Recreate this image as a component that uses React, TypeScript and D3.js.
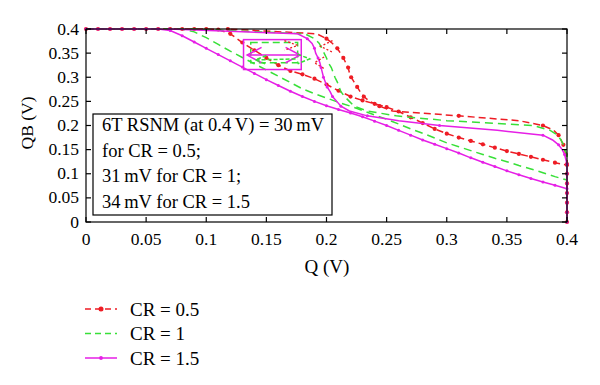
import React from "react"
import * as d3 from "d3"

const W = 600
const H = 385

const ticks = [0, 0.05, 0.1, 0.15, 0.2, 0.25, 0.3, 0.35, 0.4]
const tickLabels = ["0", "0.05", "0.1", "0.15", "0.2", "0.25", "0.3", "0.35", "0.4"]

// sweep voltage, 10 mV steps
const sweep = [
  0, 0.01, 0.02, 0.03, 0.04, 0.05, 0.06, 0.07, 0.08, 0.09, 0.1, 0.11, 0.12, 0.13,
  0.14, 0.15, 0.16, 0.17, 0.18, 0.19, 0.2, 0.21, 0.22, 0.23, 0.24, 0.25, 0.26, 0.27,
  0.28, 0.29, 0.3, 0.31, 0.32, 0.33, 0.34, 0.35, 0.36, 0.37, 0.38, 0.39, 0.4,
]

const redVtc = [
  0.4, 0.4, 0.4, 0.4, 0.4, 0.4, 0.4, 0.4, 0.4, 0.4, 0.4, 0.399, 0.39, 0.372,
  0.356, 0.34, 0.325, 0.313, 0.306, 0.297, 0.285, 0.272, 0.26, 0.252, 0.245, 0.238, 0.229, 0.217,
  0.205, 0.193, 0.183, 0.175, 0.168, 0.161, 0.154, 0.147, 0.141, 0.135, 0.129, 0.123, 0.118,
]
const greenVtc = [
  0.4, 0.4, 0.4, 0.4, 0.4, 0.4, 0.4, 0.4, 0.4, 0.394, 0.382, 0.368, 0.354, 0.341,
  0.328, 0.315, 0.302, 0.289, 0.276, 0.266, 0.257, 0.248, 0.24, 0.231, 0.222, 0.213, 0.203, 0.193,
  0.184, 0.174, 0.164, 0.156, 0.148, 0.14, 0.132, 0.125, 0.117, 0.11, 0.102, 0.094, 0.087,
]
const magentaVtc = [
  0.4, 0.4, 0.4, 0.4, 0.4, 0.4, 0.4, 0.397, 0.386, 0.373, 0.36, 0.347, 0.334, 0.321,
  0.308, 0.295, 0.283, 0.271, 0.26, 0.25, 0.241, 0.233, 0.226, 0.218, 0.209, 0.2, 0.19, 0.18,
  0.17, 0.161, 0.152, 0.143, 0.133, 0.124, 0.115, 0.106, 0.098, 0.09, 0.083, 0.076, 0.069,
]

const redMirror = [
  0.4, 0.4, 0.4, 0.4, 0.4, 0.4, 0.4, 0.4, 0.4, 0.4, 0.4, 0.4, 0.4, 0.4,
  0.399, 0.398, 0.397, 0.395, 0.393, 0.389, 0.38, 0.36, 0.31, 0.255, 0.244, 0.236, 0.231, 0.228,
  0.2255, 0.223, 0.2205, 0.219, 0.218, 0.216, 0.214, 0.2115, 0.209, 0.205, 0.2, 0.192, 0.118,
]
const greenMirror = [
  0.4, 0.4, 0.4, 0.4, 0.4, 0.4, 0.4, 0.4, 0.4, 0.4, 0.4, 0.4, 0.4, 0.4,
  0.4, 0.398, 0.397, 0.395, 0.392, 0.386, 0.372, 0.3, 0.258, 0.234, 0.223, 0.219, 0.215, 0.212,
  0.2105, 0.209, 0.207, 0.2055, 0.204, 0.2015, 0.2, 0.198, 0.196, 0.194, 0.19, 0.182, 0.087,
]
const magentaMirror = [
  0.4, 0.4, 0.4, 0.4, 0.4, 0.4, 0.4, 0.4, 0.4, 0.4, 0.4, 0.4, 0.4, 0.399,
  0.398, 0.396, 0.393, 0.388, 0.38, 0.342, 0.294, 0.26, 0.234, 0.219, 0.212, 0.2085, 0.205, 0.203,
  0.2005, 0.199, 0.1975, 0.1965, 0.1955, 0.1945, 0.193, 0.191, 0.19, 0.188, 0.184, 0.176, 0.069,
]

const legendLabels = ["CR = 0.5", "CR = 1", "CR = 1.5"]
const noteLines = [
  "6T RSNM (at 0.4\u2009V) = 30\u2009mV",
  "for CR = 0.5;",
  "31\u2009mV for CR = 1;",
  "34\u2009mV for CR = 1.5",
]

// SNM squares: [q0, qb0, q1, qb1]
const magentaBox = [0.131, 0.316, 0.179, 0.378]
const greenBox = [0.137, 0.33, 0.176, 0.372]
// arrows / chevrons drawn inside the lobe
const magentaArrow = [
  [[0.134, 0.346], [0.178, 0.346]],
  [[0.146, 0.362], [0.134, 0.346], [0.146, 0.33]],
  [[0.166, 0.362], [0.178, 0.346], [0.166, 0.33]],
]
const greenArrow = [
  [[0.15, 0.345], [0.141, 0.336], [0.15, 0.327]],
  [[0.176, 0.348], [0.186, 0.338], [0.176, 0.328]],
  [[0.141, 0.336], [0.176, 0.338]],
]
const redChevrons = [
  [[0.165, 0.376], [0.176, 0.366], [0.165, 0.356]],
  [[0.205, 0.376], [0.195, 0.364], [0.205, 0.352]],
  [[0.198, 0.342], [0.19, 0.33], [0.198, 0.318]],
]

const RED = "#ee1c24"
const GREEN = "#38e038"
const MAGENTA = "#e61fe6"

const series = [
  { color: RED, dash: "7,4", dot: 2.1, vtc: redVtc, mirror: redMirror },
  { color: GREEN, dash: "8,5", dot: 0, vtc: greenVtc, mirror: greenMirror },
  { color: MAGENTA, dash: "none", dot: 1.5, vtc: magentaVtc, mirror: magentaMirror },
]

const font = "'Liberation Serif', 'DejaVu Serif', 'Times New Roman', serif"

export default function App() {
  const x = d3.scaleLinear().domain([0, 0.4]).range([86, 567])
  const y = d3.scaleLinear().domain([0, 0.4]).range([222, 29])
  const line = d3
    .line<number[]>()
    .x((d) => x(d[0]))
    .y((d) => y(d[1]))

  const x0 = x(0), x1 = x(0.4), y0 = y(0), y1 = y(0.4)

  return (
    <svg width={W} height={H} style={{ position: "absolute", left: 0, top: 0, background: "#fff", fontFamily: font }}>
      <rect x={0} y={0} width={W} height={H} fill="#fff" />

      {/* curves */}
      {series.map((s, i) => {
        const a = sweep.map((v, j) => [v, s.vtc[j]])
        const b = sweep.map((v, j) => [s.mirror[j], v])
        return (
          <g key={i}>
            {[a, b].map((pts, k) => (
              <g key={k}>
                <path
                  d={line(pts) || ""}
                  fill="none"
                  stroke={s.color}
                  strokeWidth={1.5}
                  strokeDasharray={s.dash}
                />
                {s.dot > 0 &&
                  pts
                    .filter((p, m) => k === 0 || m % 2 === 0)
                    .map((p, m) => (
                      <circle key={m} cx={x(p[0])} cy={y(p[1])} r={s.dot} fill={s.color} />
                    ))}
              </g>
            ))}
          </g>
        )
      })}

      {/* SNM squares */}
      <rect
        x={x(magentaBox[0])}
        y={y(magentaBox[3])}
        width={x(magentaBox[2]) - x(magentaBox[0])}
        height={y(magentaBox[1]) - y(magentaBox[3])}
        fill="none"
        stroke={MAGENTA}
        strokeWidth={1.5}
      />
      <rect
        x={x(greenBox[0])}
        y={y(greenBox[3])}
        width={x(greenBox[2]) - x(greenBox[0])}
        height={y(greenBox[1]) - y(greenBox[3])}
        fill="none"
        stroke={GREEN}
        strokeWidth={1.5}
        strokeDasharray="7,4"
      />
      {magentaArrow.map((p, i) => (
        <path key={"m" + i} d={line(p) || ""} fill="none" stroke={MAGENTA} strokeWidth={1.5} />
      ))}
      {greenArrow.map((p, i) => (
        <path key={"g" + i} d={line(p) || ""} fill="none" stroke={GREEN} strokeWidth={1.5} strokeDasharray="4,2" />
      ))}
      {redChevrons.map((p, i) => (
        <path key={"r" + i} d={line(p) || ""} fill="none" stroke={RED} strokeWidth={1.3} strokeDasharray="2,2" />
      ))}

      {/* frame and ticks */}
      <rect x={x0} y={y1} width={x1 - x0} height={y0 - y1} fill="none" stroke="#000" strokeWidth={1.2} />
      {ticks.map((t, i) => (
        <g key={"t" + i} stroke="#000" strokeWidth={1.2}>
          <line x1={x(t)} x2={x(t)} y1={y0} y2={y0 - 5} />
          <line x1={x(t)} x2={x(t)} y1={y1} y2={y1 + 5} />
          <line x1={x0} x2={x0 + 5} y1={y(t)} y2={y(t)} />
          <line x1={x1} x2={x1 - 5} y1={y(t)} y2={y(t)} />
        </g>
      ))}
      {ticks.map((t, i) => (
        <text key={"xl" + i} x={x(t)} y={245} textAnchor="middle" style={{ fontFamily: font, fontSize: 17.5 }}>
          {tickLabels[i]}
        </text>
      ))}
      {ticks.map((t, i) => (
        <text key={"yl" + i} x={79} y={y(t) + 5.5} textAnchor="end" style={{ fontFamily: font, fontSize: 17.5 }}>
          {tickLabels[i]}
        </text>
      ))}
      <text x={327} y={273} textAnchor="middle" style={{ fontFamily: font, fontSize: 19 }}>
        Q (V)
      </text>
      <text
        transform="translate(33,123) rotate(-90)"
        textAnchor="middle"
        style={{ fontFamily: font, fontSize: 17.5 }}
      >
        QB (V)
      </text>

      {/* note box */}
      <rect x={93} y={114} width={239} height={101} fill="#fff" stroke="#000" strokeWidth={1.2} />
      {noteLines.map((t, i) => (
        <text key={"n" + i} x={102} y={131 + i * 25.7} style={{ fontFamily: font, fontSize: 18.5 }}>
          {t}
        </text>
      ))}

      {/* legend */}
      {series.map((s, i) => {
        const ly = 309 + i * 24.5
        return (
          <g key={"lg" + i}>
            <line x1={85} x2={117} y1={ly} y2={ly} stroke={s.color} strokeWidth={1.5} strokeDasharray={s.dash === "none" ? undefined : "6,4"} />
            {s.dot > 0 && <circle cx={101} cy={ly} r={s.dot + 0.4} fill={s.color} />}
            <text x={130} y={ly + 6.5} style={{ fontFamily: font, fontSize: 19 }}>
              {legendLabels[i]}
            </text>
          </g>
        )
      })}
    </svg>
  )
}
